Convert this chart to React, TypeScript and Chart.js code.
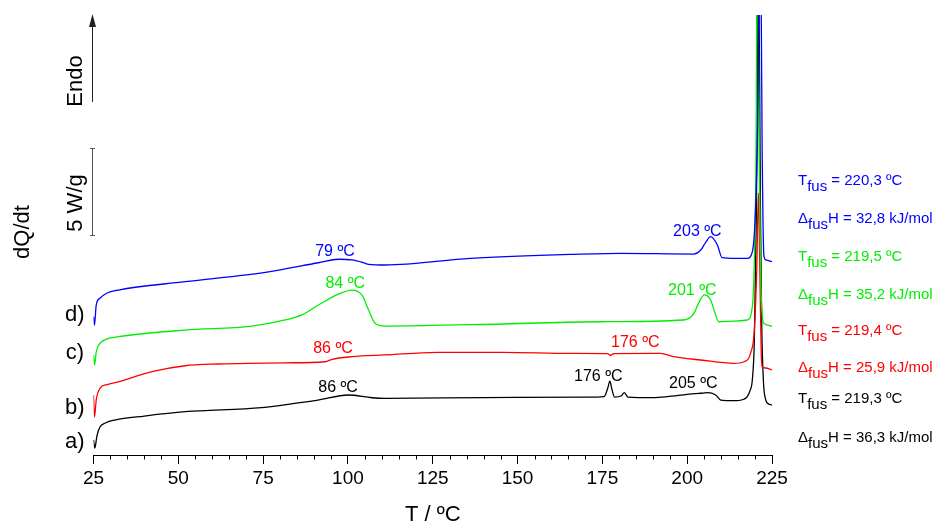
import { useEffect, useRef } from "react";
import { Chart, registerables } from "chart.js";

Chart.register(...registerables);

const FONT = '"Liberation Sans", Arial, Helvetica, sans-serif';

const BLACK = "#000000";
const RED = "#ff0000";
const GREEN = "#00ee00";
const BLUE = "#0000ff";

// Temperature axis (ºC)
const T_MIN = 25;
const T_MAX = 225;
const T_STEP = 25;
const T_MINOR = 5;

// Heat-flow window (W/g); curves are stacked with a vertical offset
const Q_MIN = 0;
const Q_MAX = 25.29;

// a) black
const tempA = [25.0, 25.4, 26.0, 26.9, 28.5, 31.3, 40, 52, 74.6, 85.3, 91.2, 100.1, 107.1, 111, 140, 170, 175.5, 176.6, 177.2, 177.8, 178.6, 180.5, 181.5, 182.5, 190, 194.1, 200, 204, 205.9, 208.4, 209.9, 213.7, 216.5, 217.7, 218.6, 219.2, 219.8, 220.4, 221.0, 221.6, 222.0, 222.5, 223.0, 223.6, 225];
const flowA = [0.86, 0.40, 1.09, 1.61, 1.84, 2.01, 2.24, 2.49, 2.72, 2.99, 3.16, 3.45, 3.29, 3.26, 3.30, 3.33, 3.36, 3.85, 4.25, 3.79, 3.33, 3.39, 3.58, 3.33, 3.30, 3.35, 3.48, 3.55, 3.58, 3.45, 3.16, 3.12, 3.19, 3.35, 3.74, 4.31, 6.61, 14, 30, 14, 7.2, 4.14, 3.28, 2.99, 2.87];

// b) red
const tempB = [25.0, 25.3, 25.8, 26.9, 29, 32.3, 42.2, 52, 61.8, 81.5, 93.3, 95.3, 101.2, 111, 126.2, 145.8, 165.6, 176.5, 177.4, 178.3, 192.1, 196, 204, 213.7, 216.7, 218.7, 219.8, 220.5, 221.0, 221.4, 221.8, 222.1, 223.1, 225];
const flowB = [3.45, 2.18, 3.16, 3.83, 4.05, 4.21, 4.79, 5.13, 5.23, 5.30, 5.36, 5.50, 5.65, 5.75, 5.90, 5.90, 5.84, 5.83, 5.72, 5.83, 5.84, 5.65, 5.46, 5.27, 5.36, 5.86, 7.18, 10.63, 15.06, 10.82, 6.03, 5.07, 5.00, 4.89];

// c) green
const tempC = [25.0, 25.3, 25.8, 26.9, 29, 32.3, 52, 71.7, 81.5, 86.4, 91.3, 97.2, 101.2, 104.1, 106.1, 108, 111, 145.8, 174.4, 199, 202, 203.5, 205.1, 206.9, 208.2, 209.3, 214, 217.7, 219.2, 219.8, 220.3, 220.7, 221.2, 221.7, 222.2, 222.6, 225];
const flowC = [5.75, 5.17, 5.92, 6.42, 6.67, 6.80, 7.18, 7.41, 7.76, 8.05, 8.62, 9.25, 9.48, 9.20, 8.33, 7.57, 7.41, 7.53, 7.66, 7.76, 8.14, 8.79, 9.20, 8.91, 8.16, 7.66, 7.70, 7.76, 8.52, 11.21, 17.53, 32, 17.5, 10.06, 7.87, 7.57, 7.41];

// d) blue
const tempD = [25.0, 25.3, 25.8, 26.9, 29, 32.3, 52, 76.6, 91.3, 97.2, 101.2, 104.5, 106.1, 111, 136.1, 165.6, 180.3, 201.9, 204, 205.5, 206.9, 208.9, 210.3, 214, 217.7, 219.2, 220.0, 220.8, 221.5, 222.1, 222.6, 223.2, 225];
const flowD = [7.95, 7.47, 8.62, 9.01, 9.31, 9.48, 9.96, 10.53, 11.05, 11.25, 11.21, 11.06, 10.96, 10.92, 11.30, 11.53, 11.59, 11.55, 11.78, 12.24, 12.55, 12.07, 11.34, 11.30, 11.30, 11.68, 13.5, 19.25, 33, 17.53, 11.49, 11.21, 11.11];

// Curve names and their anchor (ºC, W/g)
const curveNames = ["d)", "c)", "b)", "a)"];
const curveNameT = [19.5, 19.5, 19.5, 19.5];
const curveNameQ = [8.05, 5.86, 2.70, 0.75];

// Transition temperatures written next to the thermal events
const eventTexts = ["79 ºC", "203 ºC", "84 ºC", "201 ºC", "86 ºC", "176 ºC", "86 ºC", "176 ºC", "205 ºC"];
const eventColors = [BLUE, BLUE, GREEN, GREEN, RED, RED, BLACK, BLACK, BLACK];
const eventT = [96.2, 203.0, 99.2, 201.5, 95.6, 184.7, 97.1, 173.8, 201.8];
const eventQ = [11.68, 12.83, 9.87, 9.44, 6.13, 6.45, 3.89, 4.50, 4.08];

// Fusion data, d) to a)
const fusionColors = [BLUE, GREEN, RED, BLACK];
const fusionTemp = ["220,3", "219,5", "219,4", "219,3"];
const fusionEnthalpy = ["32,8", "35,2", "25,9", "36,3"];
const fusionTempQ = [15.75, 11.40, 7.16, 3.25];
const fusionEnthalpyQ = [13.59, 9.20, 5.00, 0.98];

// Scale bar and endo arrow (W/g)
const SCALE_BAR_FROM = 12.64;
const SCALE_BAR_SPAN = 5;
const ENDO_FROM = 20.29;

const toPoints = (t: number[], q: number[]) => t.map((x, i) => ({ x, y: q[i] }));

const annotations = {
  id: "dscAnnotations",
  afterDraw(chart: any) {
    const { ctx, chartArea, scales } = chart;
    const xs = scales.x;
    const ys = scales.y;
    ctx.save();

    // minor ticks on the temperature axis
    ctx.strokeStyle = "#000";
    ctx.lineWidth = 1;
    const axisY = xs.top;
    for (let t = T_MIN; t <= T_MAX; t += T_MINOR) {
      if ((t - T_MIN) % T_STEP === 0) continue;
      const px = Math.round(xs.getPixelForValue(t)) + 0.5;
      ctx.beginPath();
      ctx.moveTo(px, axisY);
      ctx.lineTo(px, axisY + 4.5);
      ctx.stroke();
    }

    // Endo arrow
    const barX = Math.round(chartArea.left - 2) + 0.5;
    const arrowBottom = ys.getPixelForValue(ENDO_FROM);
    const arrowTop = chartArea.top;
    ctx.strokeStyle = "#222";
    ctx.fillStyle = "#222";
    ctx.beginPath();
    ctx.moveTo(barX, arrowBottom);
    ctx.lineTo(barX, arrowTop + 8);
    ctx.stroke();
    ctx.beginPath();
    ctx.moveTo(barX, arrowTop - 1);
    ctx.lineTo(barX - 3.5, arrowTop + 12);
    ctx.lineTo(barX + 3.5, arrowTop + 12);
    ctx.closePath();
    ctx.fill();

    // 5 W/g scale bar
    const sbBottom = Math.round(ys.getPixelForValue(SCALE_BAR_FROM)) + 0.5;
    const sbTop = Math.round(ys.getPixelForValue(SCALE_BAR_FROM + SCALE_BAR_SPAN)) + 0.5;
    ctx.strokeStyle = "#555";
    ctx.beginPath();
    ctx.moveTo(barX, sbTop);
    ctx.lineTo(barX, sbBottom);
    ctx.moveTo(barX - 2.5, sbTop);
    ctx.lineTo(barX + 2.5, sbTop);
    ctx.moveTo(barX - 2.5, sbBottom);
    ctx.lineTo(barX + 2.5, sbBottom);
    ctx.stroke();

    const vText = (text: string, x: number, y: number, size: number) => {
      ctx.save();
      ctx.translate(x, y);
      ctx.rotate(-Math.PI / 2);
      ctx.font = `${size}px ${FONT}`;
      ctx.fillStyle = "#000";
      ctx.textAlign = "center";
      ctx.textBaseline = "middle";
      ctx.fillText(text, 0, 0);
      ctx.restore();
    };
    vText("Endo", barX - 17, arrowBottom - 21, 22);
    vText("5 W/g", barX - 17, (sbTop + sbBottom) / 2 + 11, 22);
    vText("dQ/dt", 23, 232, 22);

    // curve names
    ctx.fillStyle = "#000";
    ctx.font = `22px ${FONT}`;
    ctx.textAlign = "center";
    ctx.textBaseline = "middle";
    curveNames.forEach((name, i) => {
      ctx.fillText(name, xs.getPixelForValue(curveNameT[i]), ys.getPixelForValue(curveNameQ[i]));
    });

    // event temperatures
    ctx.font = `16px ${FONT}`;
    eventTexts.forEach((txt, i) => {
      ctx.fillStyle = eventColors[i];
      ctx.fillText(txt, xs.getPixelForValue(eventT[i]), ys.getPixelForValue(eventQ[i]));
    });

    // fusion temperatures and enthalpies, with subscripts
    ctx.textAlign = "left";
    ctx.font = `15px ${FONT}`;
    const left = chartArea.right + 26;
    const withSub = (head: string, tail: string, y: number, color: string) => {
      ctx.fillStyle = color;
      let x = left;
      ctx.fillText(head, x, y);
      x += ctx.measureText(head).width;
      ctx.fillText("fus", x, y + 6);
      x += ctx.measureText("fus").width;
      ctx.fillText(tail, x, y);
    };
    fusionColors.forEach((c, i) => {
      withSub("T", ` = ${fusionTemp[i]} ºC`, ys.getPixelForValue(fusionTempQ[i]), c);
      withSub("Δ", `H = ${fusionEnthalpy[i]} kJ/mol`, ys.getPixelForValue(fusionEnthalpyQ[i]), c);
    });

    ctx.restore();
  },
};

export default function App() {
  const canvasRef = useRef<HTMLCanvasElement | null>(null);

  useEffect(() => {
    const canvas = canvasRef.current;
    if (!canvas) return;
    const line = (label: string, t: number[], q: number[], color: string, order: number) => ({
      label,
      data: toPoints(t, q),
      borderColor: color,
      backgroundColor: color,
      borderWidth: 1.3,
      pointRadius: 0,
      fill: false,
      cubicInterpolationMode: "monotone" as const,
      order,
    });
    const chart = new Chart(canvas, {
      type: "line",
      data: {
        datasets: [
          line("a)", tempA, flowA, BLACK, 3),
          line("b)", tempB, flowB, RED, 2),
          line("c)", tempC, flowC, GREEN, 1),
          line("d)", tempD, flowD, BLUE, 0),
        ],
      },
      options: {
        responsive: false,
        animation: false,
        devicePixelRatio: 1,
        layout: { padding: { left: 93.5, right: 163, top: 15, bottom: 0 } },
        plugins: { legend: { display: false }, tooltip: { enabled: false } },
        scales: {
          x: {
            type: "linear",
            min: T_MIN,
            max: T_MAX,
            afterFit: (scale: any) => {
              scale.height = 68;
            },
            ticks: {
              stepSize: T_STEP,
              color: "#000",
              padding: 3,
              maxRotation: 0,
              font: { family: FONT, size: 19 },
            },
            grid: {
              display: true,
              drawOnChartArea: false,
              drawTicks: true,
              tickLength: 9,
              tickColor: "#000",
              tickWidth: 1,
            },
            border: { display: true, color: "#000", width: 1 },
            title: {
              display: true,
              text: "T / ºC",
              color: "#000",
              font: { family: FONT, size: 22, lineHeight: 0.7 },
              padding: 0,
            },
          },
          y: {
            type: "linear",
            display: false,
            min: Q_MIN,
            max: Q_MAX,
          },
        },
      },
      plugins: [annotations],
    });
    return () => chart.destroy();
  }, []);

  return (
    <div style={{ position: "absolute", left: 0, top: 0, width: 935, height: 523, background: "#fff" }}>
      <canvas ref={canvasRef} width={935} height={523} />
    </div>
  );
}
